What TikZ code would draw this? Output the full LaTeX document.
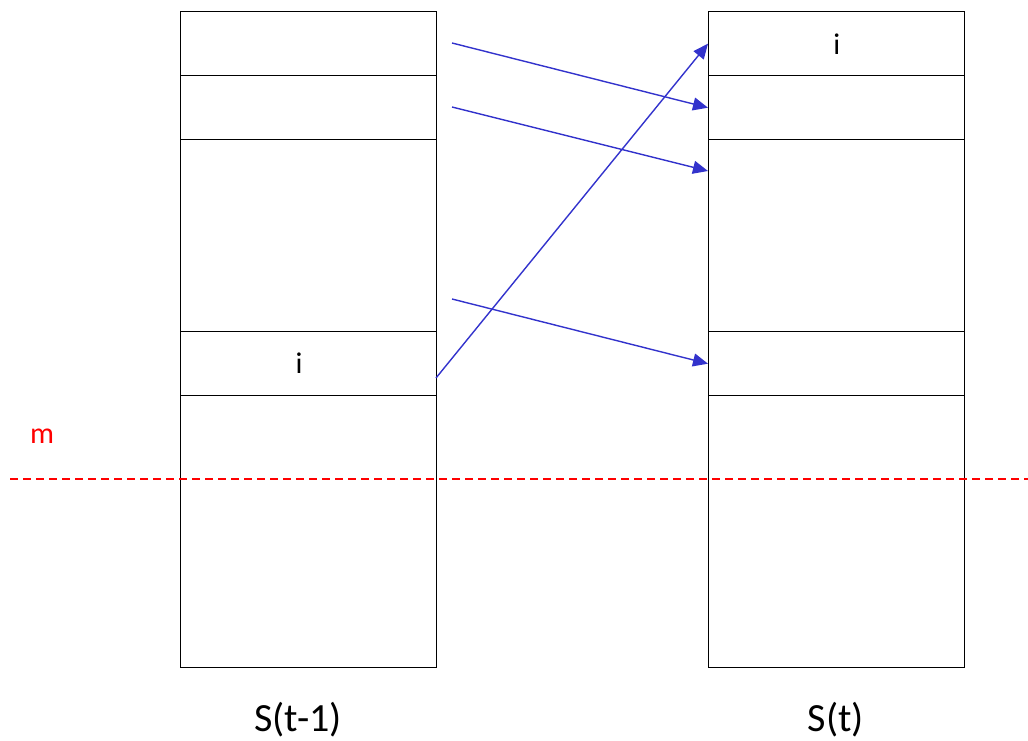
\documentclass[tikz,border=0pt]{standalone}
\usepackage{fontspec}
\setmainfont{Carlito}
\usetikzlibrary{arrows.meta}
\definecolor{arrowblue}{RGB}{51,51,204}
\begin{document}
\begin{tikzpicture}[x=1pt,y=-1pt,
  cell/.style={draw=black,line width=1.4pt,inner sep=0pt,minimum width=256pt,anchor=north west,font=\fontsize{30}{36}\selectfont},
  move/.style={draw=arrowblue,line width=1.4pt,-{Triangle[length=15pt,width=13pt]}},
  lbl/.style={font=\fontsize{40}{48}\selectfont,inner sep=0pt},
  idx/.style={font=\fontsize{30}{36}\selectfont,inner sep=0pt}]
\useasboundingbox (0,0) rectangle (1028,741);
% left column
\node[cell,minimum height=64pt] (L1) at (180,11) {};
\node[cell,minimum height=64pt] (L2) at (180,75) {};
\node[cell,minimum height=192pt] (L3) at (180,139) {};
\node[cell,minimum height=64pt] (L4) at (180,331) {};
\node[cell,minimum height=272pt] (L5) at (180,395) {};
\node[idx] (iL) at (299,363) {i};
% right column
\node[cell,minimum height=64pt] (R1) at (708,11) {i};
\node[cell,minimum height=64pt] (R2) at (708,75) {};
\node[cell,minimum height=192pt] (R3) at (708,139) {};
\node[cell,minimum height=64pt] (R4) at (708,331) {};
\node[cell,minimum height=272pt] (R5) at (708,395) {};
% threshold line
\coordinate (mL) at (10,479);
\coordinate (mR) at (1028,479);
\draw[red,line width=1.3pt,dash pattern=on 8pt off 5pt] (mL) -- (mR);
\node[text=red,font=\fontsize{30}{36}\selectfont,inner sep=0pt] (m) at (42,436) {m};
% arrows
\coordinate (a1) at (452,43);
\coordinate (a2) at (452,107);
\coordinate (a3) at (452,299);
\coordinate (e2) at (708,171);
\coordinate (s4) at (436,378);
\draw[move] (a1) -- (R2.west);
\draw[move] (a2) -- (e2);
\draw[move] (a3) -- (R4.west);
\draw[move] (s4) -- (R1.west);
% labels
\node[lbl] (sl) at (298,720) {S(t-1)};
\node[lbl] (sr) at (836,720) {S(t)};
\end{tikzpicture}
\end{document}
